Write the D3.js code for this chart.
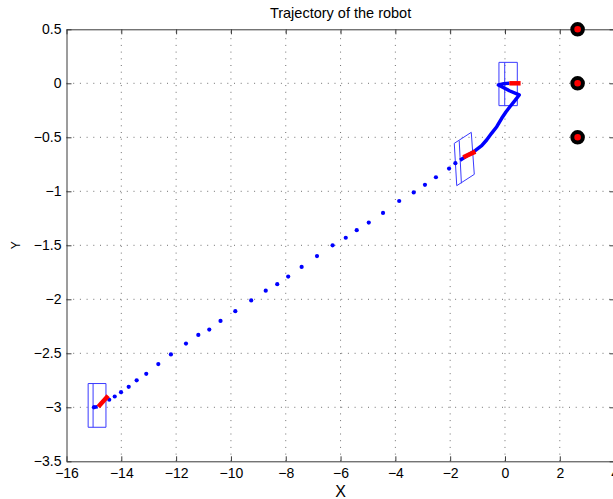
<!DOCTYPE html>
<html><head><meta charset="utf-8">
<script src="https://cdn.jsdelivr.net/npm/d3@7"></script>
<style>
body{margin:0;background:#fff;}
svg{display:block;font-family:"Liberation Sans",Arial,Helvetica,sans-serif;}
</style>
</head><body>
<svg id="chart" width="613" height="499"></svg>
<script>
// ---- data ----
const titleText = "Trajectory of the robot";
const xLabelText = "X";
const yLabelText = "Y";
const xTicks = [-16,-14,-12,-10,-8,-6,-4,-2,0,2,4];
const xTickLabels = ["\u221216","\u221214","\u221212","\u221210","\u22128","\u22126","\u22124","\u22122","0","2","4"];
const yTicks = [0.5,0,-0.5,-1,-1.5,-2,-2.5,-3,-3.5];
const yTickLabels = ["0.5","0","\u22120.5","\u22121","\u22121.5","\u22122","\u22122.5","\u22123","\u22123.5"];

// landmarks
const landmarkX = [2.65, 2.65, 2.65];
const landmarkY = [0.5, 0, -0.5];

// sampled (dotted) part of trajectory
const dotX = [-15.0,-14.44,-14.24,-14.01,-13.73,-13.44,-13.09,-12.65,-12.19,-11.64,-11.19,-10.79,-10.38,-9.84,-9.26,-8.73,-8.31,-7.91,-7.42,-6.86,-6.29,-5.81,-5.41,-4.97,-4.45,-3.86,-3.33,-2.92,-2.52,-2.04,-1.81];
const dotY = [-3.0,-2.93,-2.90,-2.86,-2.81,-2.75,-2.69,-2.60,-2.51,-2.41,-2.33,-2.28,-2.20,-2.11,-2.01,-1.92,-1.86,-1.79,-1.70,-1.60,-1.50,-1.43,-1.36,-1.29,-1.20,-1.09,-1.01,-0.94,-0.87,-0.79,-0.74];

// dense (solid) part of trajectory
const pathX = [-1.64,-1.40,-1.09,-0.85,-0.67,-0.49,-0.30,-0.12,0.04,0.18,0.36,0.52,0.16,-0.24,-0.04,0.16];
const pathY = [-0.713,-0.673,-0.624,-0.578,-0.525,-0.463,-0.402,-0.324,-0.263,-0.217,-0.161,-0.108,-0.069,-0.016,-0.003,0];

// start blue stub
const stubX = [-15.02,-14.86];
const stubY = [-3.0,-2.995];

// heading indicators (red)
const headX0 = [-14.84,-1.52,0.16];
const headY0 = [-2.994,-0.685,0.0];
const headX1 = [-14.48,-1.08,0.57];
const headY1 = [-2.893,-0.633,0.0];

// robot outline boxes (4 corners each) + inner axle line
const boxX = [[-15.21,-14.56,-14.56,-15.21],[-1.85,-1.23,-1.12,-1.76],[-0.22,0.45,0.45,-0.22]];
const boxY = [[-2.78,-2.78,-3.185,-3.185],[-0.556,-0.454,-0.843,-0.948],[0.194,0.194,-0.207,-0.207]];
const axleX0 = [-15.03,-1.67,-0.01];
const axleY0 = [-2.78,-0.531,0.194];
const axleX1 = [-15.03,-1.59,-0.01];
const axleY1 = [-3.185,-0.926,-0.207];

// ---- drawing ----
const svg = d3.select("#chart");
const L = 66.5, R = 614.6, T = 29.3, B = 461.3;
const x = d3.scaleLinear().domain([-16,4]).range([L,R]);
const y = d3.scaleLinear().domain([-3.5,0.5]).range([B,T]);
const axisColor = "#3a3a3a";
const gridColor = "#707070";

// grid
const grid = svg.append("g");
grid.selectAll("line.vx").data(xTicks.slice(1,-1)).join("line")
  .attr("x1", d=>x(d)).attr("x2", d=>x(d)).attr("y1", B).attr("y2", T)
  .attr("stroke", gridColor).attr("stroke-width",1).attr("stroke-dasharray","1,5.7");
grid.selectAll("line.hy").data(yTicks.slice(1,-1)).join("line")
  .attr("y1", d=>y(d)).attr("y2", d=>y(d)).attr("x1", L).attr("x2", R)
  .attr("stroke", gridColor).attr("stroke-width",1).attr("stroke-dasharray","1,5.7");

// axes
function styleAxis(g){
  g.selectAll("path.domain").attr("stroke", axisColor).attr("stroke-width",1);
  g.selectAll(".tick line").attr("stroke", axisColor).attr("stroke-width",1);
  g.selectAll(".tick text").attr("fill","#000").attr("font-size","14px")
   .attr("font-family","Liberation Sans, Arial, sans-serif");
}
const gx = svg.append("g").attr("transform",`translate(0,${B})`)
  .call(d3.axisBottom(x).tickValues(xTicks).tickFormat((d,i)=>xTickLabels[i]).tickSizeInner(-5).tickSizeOuter(0).tickPadding(7));
styleAxis(gx);
const gxt = svg.append("g").attr("transform",`translate(0,${T})`)
  .call(d3.axisTop(x).tickValues(xTicks).tickFormat("").tickSizeInner(-5).tickSizeOuter(0));
styleAxis(gxt);
const gy = svg.append("g").attr("transform",`translate(${L},0)`)
  .call(d3.axisLeft(y).tickValues(yTicks).tickFormat((d,i)=>yTickLabels[i]).tickSizeInner(-5).tickSizeOuter(0).tickPadding(5));
styleAxis(gy);
const gyr = svg.append("g").attr("transform",`translate(${R},0)`)
  .call(d3.axisRight(y).tickValues(yTicks).tickFormat("").tickSizeInner(-5).tickSizeOuter(0));
styleAxis(gyr);
svg.selectAll(".domain").attr("fill","none");

// robot boxes
const boxes = svg.append("g");
boxX.forEach((bx,i)=>{
  const pts = bx.map((v,j)=>[x(v), y(boxY[i][j])]);
  boxes.append("polygon").attr("points", pts.map(p=>p.join(",")).join(" "))
    .attr("fill","none").attr("stroke","#3a3aff").attr("stroke-width",1);
  boxes.append("line").attr("x1",x(axleX0[i])).attr("y1",y(axleY0[i]))
    .attr("x2",x(axleX1[i])).attr("y2",y(axleY1[i]))
    .attr("stroke","#3a3aff").attr("stroke-width",1);
});

// dots
svg.append("g").selectAll("circle").data(dotX).join("circle")
  .attr("cx",(d)=>x(d)).attr("cy",(d,i)=>y(dotY[i])).attr("r",2.1).attr("fill","#0000ff");

// stub
const lineGen = d3.line().x(d=>x(d[0])).y(d=>y(d[1]));
svg.append("path").attr("d", lineGen(stubX.map((v,i)=>[v,stubY[i]])))
  .attr("fill","none").attr("stroke","#0000ff").attr("stroke-width",3.5);

// solid path
svg.append("path").attr("d", d3.line().x(d=>x(d[0])).y(d=>y(d[1])).curve(d3.curveLinear)(pathX.map((v,i)=>[v,pathY[i]])))
  .attr("fill","none").attr("stroke","#0000ff").attr("stroke-width",3.5).attr("stroke-linejoin","round");

// heading segments
svg.append("g").selectAll("line").data(headX0).join("line")
  .attr("x1",d=>x(d)).attr("y1",(d,i)=>y(headY0[i]))
  .attr("x2",(d,i)=>x(headX1[i])).attr("y2",(d,i)=>y(headY1[i]))
  .attr("stroke","#ff0000").attr("stroke-width",4.5);

// landmarks
svg.append("g").selectAll("circle").data(landmarkX).join("circle")
  .attr("cx",d=>x(d)).attr("cy",(d,i)=>y(landmarkY[i])).attr("r",5.3)
  .attr("fill","#ff0000").attr("stroke","#000").attr("stroke-width",4);

// texts
svg.append("text").attr("x",(L+R)/2).attr("y",18).attr("text-anchor","middle")
  .attr("font-size","14.5px").attr("fill","#000").text(titleText);
svg.append("text").attr("x",(L+R)/2).attr("y",497).attr("text-anchor","middle")
  .attr("font-size","16px").attr("fill","#000").text(xLabelText);
svg.append("text").attr("transform",`translate(20,${(T+B)/2}) rotate(-90)`).attr("text-anchor","middle")
  .attr("font-size","12px").attr("fill","#000").text(yLabelText);
</script>
</body></html>
